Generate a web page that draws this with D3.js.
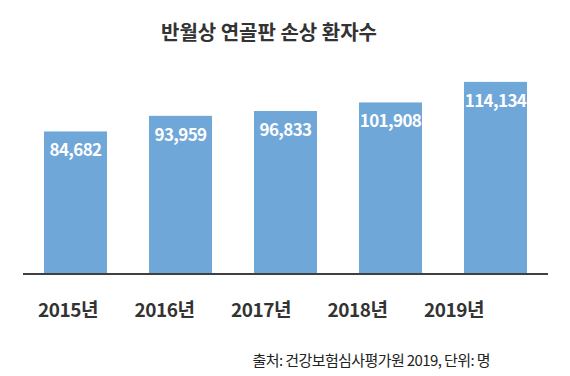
<!DOCTYPE html>
<html>
<head>
<meta charset="utf-8">
<script src="https://cdn.jsdelivr.net/npm/d3@7"></script>
<style>
  body { margin: 0; background: white; }
  text { font-family: "Noto Sans CJK KR", "Noto Sans", sans-serif; }
</style>
</head>
<body>
<div id="chart"></div>
<script>
// data
let years = ['2015년', '2016년', '2017년', '2018년', '2019년']
let patients = [84682, 93959, 96833, 101908, 114134]

let width = 570,
	height = 376,
	baseY = 274

let svg = d3.select('#chart')
	.append('svg')
		.attr('width', width)
		.attr('height', height)
		.style('background', 'white')

let x = d3.scaleBand()
	.domain(years)
	.range([23, 548])
	.paddingInner(0.4)
	.paddingOuter(0.2)

let y = d3.scaleLinear()
	.domain([0, 120000])
	.range([baseY, 72])

// title
svg.append('text')
	.attr('x', 269)
	.attr('y', 40)
	.attr('text-anchor', 'middle')
	.style('font-size', '20px')
	.style('font-weight', 'bold')
	.style('fill', '#333')
	.text('반월상 연골판 손상 환자수')

// bars
svg.selectAll('rect.bar')
	.data(patients)
	.enter()
	.append('rect')
		.attr('class', 'bar')
		.attr('x', (d, i) => x(years[i]))
		.attr('y', d => y(d))
		.attr('width', x.bandwidth())
		.attr('height', d => baseY - y(d))
		.attr('fill', '#70a7d9')

// value labels
svg.selectAll('text.val')
	.data(patients)
	.enter()
	.append('text')
		.attr('class', 'val')
		.attr('x', (d, i) => x(years[i]) + x.bandwidth() / 2)
		.attr('y', d => y(d) + 25)
		.attr('text-anchor', 'middle')
		.style('font-size', '17px')
		.style('font-weight', 'bold')
		.style('letter-spacing', '-0.6px')
		.style('fill', 'white')
		.text(d => d3.format(',')(d))

// baseline
svg.append('line')
	.attr('x1', 23).attr('x2', 548)
	.attr('y1', baseY).attr('y2', baseY)
	.attr('stroke', '#404040')
	.attr('stroke-width', 2)

// year labels (sit a little left of the bars in the original)
let xl = d3.scalePoint()
	.domain(years)
	.range([68, 454])

svg.selectAll('text.year')
	.data(years)
	.enter()
	.append('text')
		.attr('class', 'year')
		.attr('x', d => xl(d))
		.attr('y', 317)
		.attr('text-anchor', 'middle')
		.style('font-size', '19px')
		.style('font-weight', 'bold')
		.style('letter-spacing', '-0.5px')
		.style('fill', '#333')
		.text(d => d)

// source note
svg.append('text')
	.attr('x', 490)
	.attr('y', 366)
	.attr('text-anchor', 'end')
	.style('font-size', '15px')
	.style('fill', '#222')
	.style('letter-spacing', '-0.6px')
	.text('출처: 건강보험심사평가원 2019, 단위: 명')
</script>
</body>
</html>
